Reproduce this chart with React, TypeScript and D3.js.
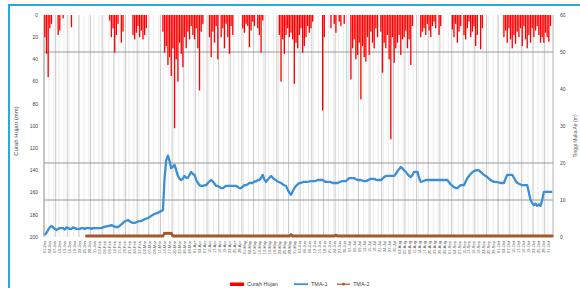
import React from "react";
import * as d3 from "d3";

const START_DATE = new Date(2015, 0, 1);
const LABEL_STEP = 3;
const LEFT_TICKS = [0, 20, 40, 60, 80, 100, 120, 140, 160, 180, 200];
const RIGHT_TICKS = [0, 10, 20, 30, 40, 50, 60];
const RIGHT_GRID = [10, 20, 50];
const SERIES_NAMES = ["Curah Hujan", "TMA-1", "TMA-2"];
const LEFT_TITLE = "Curah Hujan (mm)";
const RIGHT_TITLE = "Tinggi Muka Air (m)";

const rain: number[] = [
  20, 35, 56, 12, 8, 0, 0, 0, 18, 14,
  0, 3, 0, 0, 0, 0, 11, 0, 0, 0,
  0, 0, 0, 0, 0, 0, 0, 0, 0, 0,
  0, 0, 0, 0, 0, 0, 0, 0, 0, 5,
  20, 12, 34, 18, 8, 0, 25, 15, 0, 0,
  0, 0, 0, 18, 22, 16, 10, 20, 14, 22,
  18, 12, 0, 0, 0, 0, 0, 0, 0, 0,
  0, 15, 34, 28, 45, 38, 55, 30, 102, 40,
  60, 25, 35, 47, 20, 30, 15, 22, 10, 18,
  22, 12, 30, 68, 15, 8, 0, 0, 0, 20,
  38, 15, 25, 10, 40, 0, 20, 12, 30, 8,
  20, 35, 10, 18, 0, 0, 0, 0, 0, 12,
  16, 8, 10, 29, 14, 6, 10, 0, 12, 18,
  34, 5, 0, 0, 0, 0, 0, 0, 0, 0,
  0, 18, 60, 22, 35, 18, 12, 20, 16, 22,
  62, 25, 30, 18, 12, 34, 28, 20, 10, 16,
  12, 6, 0, 0, 0, 0, 0, 86, 20, 0,
  0, 0, 12, 0, 8, 16, 0, 6, 10, 0,
  8, 0, 0, 0, 58, 30, 22, 40, 36, 25,
  76, 28, 38, 42, 20, 36, 15, 25, 30, 12,
  20, 0, 15, 52, 25, 30, 18, 40, 112, 20,
  43, 30, 25, 18, 36, 22, 20, 14, 30, 22,
  45, 10, 0, 0, 0, 0, 20, 15, 12, 18,
  8, 14, 20, 10, 6, 12, 0, 18, 10, 0,
  0, 0, 0, 0, 0, 13, 20, 8, 25, 15,
  10, 0, 18, 22, 12, 6, 20, 15, 10, 28,
  18, 0, 31, 12, 0, 0, 0, 0, 0, 0,
  0, 0, 0, 0, 0, 0, 20, 14, 25, 12,
  22, 30, 18, 26, 15, 20, 12, 28, 10, 22,
  30, 18, 25, 12, 20, 14, 10, 18, 25, 20,
  25, 16, 20, 24, 10, 0,
];

const tma1: number[] = [
  0.5, 1.2, 1.9, 2.6, 3.0, 2.6, 2.2, 1.9, 2.2, 2.4,
  2.4, 2.4, 2.0, 2.6, 2.4, 2.2, 2.2, 2.6, 2.4, 2.2,
  2.2, 2.2, 2.4, 2.4, 2.2, 2.4, 2.4, 2.4, 2.2, 2.4,
  2.4, 2.4, 2.4, 2.4, 2.4, 2.6, 2.8, 2.8, 3.0, 3.0,
  3.2, 3.0, 2.8, 2.7, 2.7, 3.0, 3.4, 3.8, 4.2, 4.4,
  4.6, 4.2, 4.0, 3.8, 3.8, 4.0, 4.2, 4.3, 4.3, 4.6,
  4.8, 5.0, 5.1, 5.4, 5.7, 6.0, 6.2, 6.4, 6.5, 6.8,
  7.0, 7.3, 16.0, 20.8, 22.0, 20.5, 18.6, 19.0, 19.5, 18.0,
  16.5, 15.8, 15.4, 15.8, 16.5, 16.0, 16.0, 16.8, 17.6, 17.0,
  16.8, 15.4, 14.6, 14.0, 13.8, 13.8, 14.0, 14.0, 14.6, 15.0,
  15.4, 15.0, 14.4, 13.8, 13.8, 13.5, 13.2, 13.2, 13.5, 13.8,
  13.8, 13.8, 13.8, 13.8, 13.8, 13.8, 13.5, 13.2, 13.2, 13.6,
  14.0, 14.0, 14.3, 14.6, 14.6, 14.6, 15.0, 15.0, 15.4, 15.4,
  16.0, 16.8, 15.5, 14.9, 15.5, 16.0, 16.5, 16.0, 15.6, 15.4,
  15.0, 14.8, 14.6, 14.2, 14.0, 13.8, 12.8, 12.0, 11.4, 12.3,
  13.2, 13.8, 14.2, 14.6, 14.6, 14.8, 14.9, 14.9, 14.9, 15.0,
  15.1, 15.1, 15.1, 15.2, 15.4, 15.4, 15.4, 15.4, 15.1, 14.9,
  14.9, 14.9, 14.8, 14.6, 14.6, 14.6, 14.6, 14.8, 15.0, 15.1,
  15.1, 15.1, 15.5, 15.9, 15.9, 15.9, 15.9, 15.6, 15.4, 15.4,
  15.4, 15.2, 15.1, 15.1, 15.3, 15.5, 15.7, 15.7, 15.7, 15.5,
  15.4, 15.4, 15.4, 15.8, 16.2, 16.5, 16.5, 16.5, 16.5, 16.5,
  16.5, 17.0, 17.8, 18.4, 18.9, 18.5, 18.0, 17.6, 17.0, 16.5,
  16.2, 16.8, 17.6, 17.6, 17.6, 16.0, 14.9, 15.0, 15.2, 15.4,
  15.4, 15.4, 15.4, 15.4, 15.4, 15.4, 15.4, 15.4, 15.4, 15.4,
  15.4, 15.4, 15.4, 14.8, 14.2, 13.8, 13.5, 13.2, 13.2, 13.6,
  14.0, 14.0, 14.0, 15.0, 15.9, 16.5, 17.0, 17.5, 17.8, 18.0,
  18.1, 18.0, 17.6, 17.2, 16.8, 16.5, 16.2, 15.8, 15.4, 15.1,
  14.9, 14.9, 14.8, 14.7, 14.6, 14.6, 14.6, 15.8, 16.8, 16.8,
  16.8, 16.8, 16.0, 15.2, 14.6, 14.4, 14.2, 14.0, 14.0, 14.0,
  14.0, 12.0, 10.0, 9.2, 8.6, 9.0, 8.4, 8.8, 8.4, 10.0,
  12.2, 12.2, 12.2, 12.2, 12.2, 12.2,
];

const tma2: (number | null)[] = [
  null, null, null, null, null, null, null, null, null, null,
  null, null, null, null, null, null, null, null, null, null,
  null, null, null, null, null, 0.3, 0.3, 0.3, 0.3, 0.3,
  0.3, 0.3, 0.3, 0.3, 0.3, 0.3, 0.3, 0.3, 0.3, 0.3,
  0.3, 0.3, 0.3, 0.3, 0.3, 0.3, 0.3, 0.3, 0.3, 0.3,
  0.3, 0.3, 0.3, 0.3, 0.3, 0.3, 0.3, 0.3, 0.3, 0.3,
  0.3, 0.3, 0.3, 0.3, 0.3, 0.3, 0.3, 0.3, 0.3, 0.3,
  0.3, 0.3, 1.0, 1.0, 1.0, 1.0, 1.0, 0.3, 0.3, 0.3,
  0.3, 0.3, 0.3, 0.3, 0.3, 0.3, 0.3, 0.3, 0.3, 0.3,
  0.3, 0.3, 0.3, 0.3, 0.3, 0.3, 0.3, 0.3, 0.3, 0.3,
  0.3, 0.3, 0.3, 0.3, 0.3, 0.3, 0.3, 0.3, 0.3, 0.3,
  0.3, 0.3, 0.3, 0.3, 0.3, 0.3, 0.3, 0.3, 0.3, 0.3,
  0.3, 0.3, 0.3, 0.3, 0.3, 0.3, 0.3, 0.3, 0.3, 0.3,
  0.3, 0.3, 0.3, 0.3, 0.3, 0.3, 0.3, 0.3, 0.3, 0.3,
  0.3, 0.3, 0.3, 0.3, 0.3, 0.3, 0.3, 0.3, 0.6, 0.3,
  0.3, 0.3, 0.3, 0.3, 0.3, 0.3, 0.3, 0.3, 0.3, 0.3,
  0.3, 0.3, 0.3, 0.3, 0.3, 0.3, 0.3, 0.3, 0.3, 0.3,
  0.3, 0.3, 0.3, 0.3, 0.3, 0.5, 0.3, 0.3, 0.3, 0.3,
  0.3, 0.3, 0.3, 0.3, 0.3, 0.3, 0.3, 0.3, 0.3, 0.3,
  0.3, 0.3, 0.3, 0.3, 0.3, 0.3, 0.3, 0.3, 0.3, 0.3,
  0.3, 0.3, 0.3, 0.3, 0.3, 0.3, 0.3, 0.3, 0.3, 0.3,
  0.3, 0.3, 0.3, 0.3, 0.3, 0.3, 0.3, 0.3, 0.3, 0.3,
  0.3, 0.3, 0.3, 0.3, 0.3, 0.3, 0.3, 0.3, 0.3, 0.3,
  0.3, 0.3, 0.3, 0.3, 0.3, 0.3, 0.3, 0.3, 0.3, 0.3,
  0.3, 0.3, 0.3, 0.3, 0.3, 0.3, 0.3, 0.3, 0.3, 0.3,
  0.3, 0.3, 0.3, 0.3, 0.3, 0.3, 0.3, 0.3, 0.3, 0.3,
  0.3, 0.3, 0.3, 0.3, 0.3, 0.3, 0.3, 0.3, 0.3, 0.3,
  0.3, 0.3, 0.3, 0.3, 0.3, 0.3, 0.3, 0.3, 0.3, 0.3,
  0.3, 0.3, 0.3, 0.3, 0.3, 0.3, 0.3, 0.3, 0.3, 0.3,
  0.3, 0.3, 0.3, 0.3, 0.3, 0.3, 0.3, 0.3, 0.3, 0.3,
  0.3, 0.3, 0.3, 0.3, 0.3, 0.3,
];

const N = rain.length;
const dates = d3.timeDay.range(START_DATE, d3.timeDay.offset(START_DATE, N));
const fmt = d3.timeFormat("%d-%b");

const W = 580;
const H = 288;
const PL = 44;
const PR = 553;
const PT = 15;
const PB = 237;

const FONT = "Liberation Sans, Arial, sans-serif";
const RED = "#ff0000";
const BLUE = "#3a8fd6";
const BROWN = "#a5582a";

export default function App() {
  const x = d3.scaleBand<number>().domain(d3.range(N)).range([PL, PR]).padding(0);
  const bw = x.bandwidth();
  const cx = (i: number) => (x(i) as number) + bw / 2;
  const yL = d3.scaleLinear().domain([0, 200]).range([PT, PB]);
  const yR = d3.scaleLinear().domain([0, 60]).range([PB, PT]);

  const line1 = d3
    .line<number>()
    .x((_, i) => cx(i))
    .y((d) => yR(d));
  const line2 = d3
    .line<number | null>()
    .defined((d) => d !== null)
    .x((_, i) => cx(i))
    .y((d) => yR(d as number));

  const labelIdx = d3.range(0, N, LABEL_STEP);
  const weekIdx = d3.range(0, N, 7);

  return (
    <div style={{ position: "absolute", left: 0, top: 0 }}>
      <svg width={W} height={H} style={{ display: "block", background: "#fff" }}>
        <rect x={9} y={5} width={W} height={H} fill="#fff" stroke="#2aa6e0" strokeWidth={2} />
        {labelIdx.map((i) => (
          <line key={"lg" + i} x1={x(i)} x2={x(i)} y1={PT} y2={PB} stroke="#ececec" strokeWidth={1} />
        ))}
        {weekIdx.map((i) => (
          <line key={"wg" + i} x1={x(i)} x2={x(i)} y1={PT} y2={PB} stroke="#c4c4c4" strokeWidth={0.9} />
        ))}
        {RIGHT_GRID.map((v) => (
          <line key={"hg" + v} x1={PL} x2={PR} y1={yR(v)} y2={yR(v)} stroke="#8f8f8f" strokeWidth={0.9} />
        ))}
        <line x1={PL} x2={PL} y1={PT} y2={PB} stroke="#a0a0a0" strokeWidth={0.8} />
        <line x1={PR} x2={PR} y1={PT} y2={PB} stroke="#a0a0a0" strokeWidth={0.8} />
        {rain.map((v, i) =>
          v > 0 ? (
            <rect key={"r" + i} x={(x(i) as number) + bw * 0.1} width={bw * 0.8} y={yL(0)} height={yL(v) - yL(0)} fill={RED} />
          ) : null
        )}
        <path d={line1(tma1) || ""} fill="none" stroke={BLUE} strokeWidth={2.3} strokeLinejoin="round" />
        <path d={line2(tma2) || ""} fill="none" stroke={BROWN} strokeWidth={2.4} />
        {tma2.map((v, i) =>
          v !== null ? <circle key={"m" + i} cx={cx(i)} cy={yR(v)} r={1.5} fill={BROWN} /> : null
        )}
        {LEFT_TICKS.map((t) => (
          <text key={"lt" + t} x={38} y={yL(t)} dy="0.35em" textAnchor="end" fontSize={5} fill="#444" fontFamily={FONT}>
            {t}
          </text>
        ))}
        <text transform={`translate(18,${(PT + PB) / 2 + 5}) rotate(-90)`} textAnchor="middle" fontSize={6} fill="#444" fontFamily={FONT}>
          {LEFT_TITLE}
        </text>
        {RIGHT_TICKS.map((t) => (
          <text key={"rt" + t} x={560} y={yR(t)} dy="0.35em" textAnchor="start" fontSize={5} fill="#444" fontFamily={FONT}>
            {t}
          </text>
        ))}
        <text transform={`translate(577,${(PT + PB) / 2 + 10}) rotate(-90)`} textAnchor="middle" fontSize={5} fill="#666" fontFamily={FONT}>
          {RIGHT_TITLE}
        </text>
        {labelIdx.map((i) => (
          <text key={"xl" + i} transform={`translate(${cx(i) + 1.5},241) rotate(-90)`} textAnchor="end" fontSize={4} fill="#555" fontFamily={FONT}>
            {fmt(dates[i])}
          </text>
        ))}
        <g fontFamily={FONT} fontSize={5.5} fill="#444">
          <rect x={230} y={282.5} width={14} height={3.5} fill={RED} />
          <text x={247} y={284.2} dy="0.35em">{SERIES_NAMES[0]}</text>
          <line x1={294} x2={308} y1={284.2} y2={284.2} stroke={BLUE} strokeWidth={1.8} />
          <text x={311} y={284.2} dy="0.35em">{SERIES_NAMES[1]}</text>
          <line x1={337} x2={350} y1={284.2} y2={284.2} stroke={BROWN} strokeWidth={1.2} />
          <circle cx={343.5} cy={284.2} r={1.4} fill={BROWN} />
          <text x={353} y={284.2} dy="0.35em">{SERIES_NAMES[2]}</text>
        </g>
      </svg>
    </div>
  );
}
